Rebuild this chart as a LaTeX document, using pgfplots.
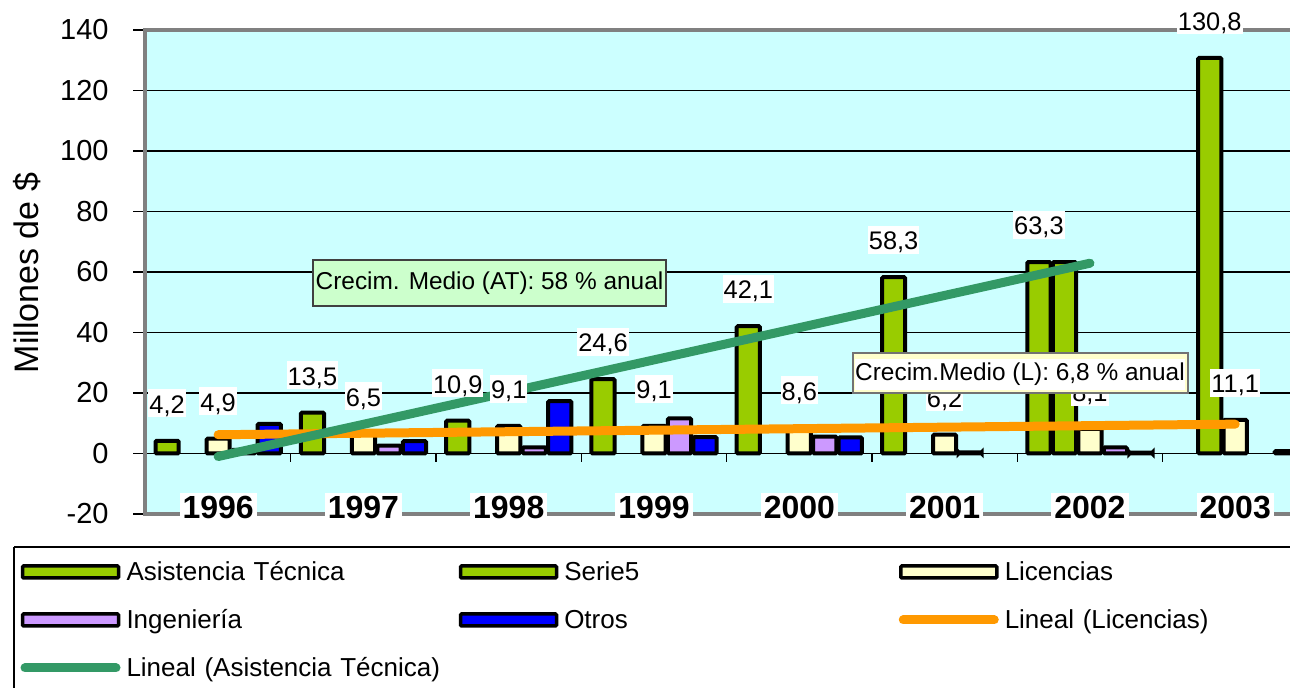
\documentclass[border=0pt]{standalone}
\usepackage{pgfplots}
\pgfplotsset{compat=1.18}
\usepackage{fontspec}
\setmainfont{Liberation Sans}
\definecolor{plotbg}{HTML}{CCFFFF}
\definecolor{atgreen}{HTML}{99CC00}
\definecolor{liccream}{HTML}{FFFFCC}
\definecolor{ingpurple}{HTML}{CC99FF}
\definecolor{otrosblue}{HTML}{0000FF}
\definecolor{trendgreen}{HTML}{339966}
\definecolor{trendorange}{HTML}{FF9900}
\definecolor{boxgreen}{HTML}{CCFFCC}
\definecolor{boxyellow}{HTML}{FFFFCC}
\definecolor{framegray}{HTML}{808080}
\pgfplotsset{
  mybar/.style 2 args={ybar, bar width=11.6pt, bar shift=#2, draw=black, line width=2pt, rounded corners=0.6pt, fill=#1,
    legend image code/.code={\draw[draw=black, line width=1.75pt, fill=#1, rounded corners=0.5pt] (1pt,-3pt) rectangle (49pt,3pt); \path (0pt,-3pt) (44pt,3pt);}},
  mytrend/.style={#1, line width=4.5pt, line cap=round, mark=none,
    legend image code/.code={\draw[#1, line width=4.5pt, line cap=round] (2.25pt,0pt) -- (47.75pt,0pt); \path (0pt,-3pt) (44pt,3pt);}},
  lbl/.style={ybar, bar width=11.6pt, bar shift=0pt, draw=none, fill=none, forget plot,
    nodes near coords={\pgfmathprintnumber[fixed, fixed zerofill, precision=1, use comma, assume math mode=true]{\pgfplotspointmeta}},
    every node near coord/.append style={anchor=south, xshift=#1, yshift=11.5pt, fill=white, text=black, inner xsep=0.5pt, inner ysep=1pt, text height=11pt, text depth=1pt, font=\fontsize{12.7}{14}\selectfont}},
}
\begin{document}
\begin{tikzpicture}
\begin{axis}[
  at={(72.75pt,87pt)}, anchor=south west,
  scale only axis, width=581.2pt, height=242pt,
  xmin=-0.5, xmax=7.5, ymin=-20, ymax=140,
  clip=false,
  axis background/.style={fill=plotbg},
  axis line style={draw=framegray, line width=2pt},
  ytick={-20,0,20,40,60,80,100,120,140},
  ymajorgrids, grid style={black, line width=0.7pt},
  tick align=outside, major tick length=6pt,
  ytick style={black, line width=0.7pt},
  xtick={0,1,2,3,4,5,6,7},
  xticklabels={1996,1997,1998,1999,2000,2001,2002,2003},
  xtick style={draw=none},
  /pgf/number format/assume math mode=true,
  yticklabel style={font=\fontsize{14.5}{17}\selectfont, anchor=east, inner sep=0pt, xshift=-12.25pt},
  xticklabel style={font=\bfseries\fontsize{16}{18}\selectfont, anchor=south, yshift=1pt, fill=white, inner xsep=1.5pt, inner ysep=1.5pt, text height=11.5pt, text depth=1pt},
  ylabel={Millones de \$},
  ylabel style={at={(axis description cs:-0.102,0.498)}, anchor=center, font=\fontsize{17}{19}\selectfont},
  legend columns=3,
  legend cell align=left,
  legend style={at={(axis description cs:-0.1114,-0.09298)}, anchor=north west, draw=none, fill=none, inner sep=0pt, outer sep=0pt, row sep=11pt, font=\fontsize{13}{15}\selectfont, nodes={inner sep=0pt, text width=165pt, text height=11pt, text depth=2pt}, /tikz/every odd column/.append style={column sep=3pt}, /tikz/every even column/.append style={column sep=0pt}},
]
\addplot[mybar={atgreen}{-25.5pt}] coordinates {(0,4.2) (1,13.5) (2,10.9) (3,24.6) (4,42.1) (5,58.3) (6,63.3)};
\addlegendentry{Asistencia Técnica}
\addplot[mybar={atgreen}{-12.75pt}] coordinates {(6,63.3) (7,130.8)};
\addlegendentry{Serie5}
\addplot[mybar={liccream}{0pt}] coordinates {(0,4.9) (1,6.5) (2,9.1) (3,9.1) (4,8.6) (5,6.2) (6,8.1) (7,11.1)};
\addlegendentry{Licencias}
\addplot[mybar={ingpurple}{12.75pt}] coordinates {(0,1.2) (1,2.6) (2,2.0) (3,11.6) (4,5.6) (5,0.4) (6,2.0)};
\addlegendentry{Ingeniería}
\addplot[mybar={otrosblue}{25.5pt}] coordinates {(0,9.8) (1,4.1) (2,17.3) (3,5.4) (4,5.3) (6,0.3) (7,0.8)};
\addlegendentry{Otros}
\addplot[mytrend=trendorange] coordinates {(0,6.2) (7,9.7)};
\addlegendentry{Lineal (Licencias)}
\addplot[mytrend=trendgreen] coordinates {(0,-1.0) (6,62.9)};
\addlegendentry{Lineal (Asistencia Técnica)}
\addplot[lbl=-25.5pt] coordinates {(0,4.2) (1,13.5) (2,10.9) (3,24.6) (4,42.1) (5,58.3) (6,63.3)};
\addplot[lbl=-12.75pt] coordinates {(7,130.8)};
\addplot[lbl=0pt] coordinates {(0,4.9) (1,6.5) (2,9.1) (3,9.1) (4,8.6) (5,6.2) (6,8.1) (7,11.1)};
\pgfplotsinvokeforeach{0.5,1.5,2.5,3.5,4.5,5.5,6.5}{\draw[black, line width=0.7pt] (axis cs:#1,0) -- ++(0pt,-4.5pt);}
\end{axis}
\draw[black, line width=0.75pt] (7pt,70.5pt) -- (700pt,70.5pt);
\draw[black, line width=0.75pt] (7pt,70.5pt) -- (7pt,-20pt);
\node[fill=boxgreen, draw=black!75, line width=0.6pt, minimum width=176.5pt, minimum height=23pt, inner sep=0pt, font=\fontsize{12.2}{14}\selectfont] at (244.75pt,202.5pt) {Crecim. Medio (AT): 58 \% anual};
\node[fill=boxyellow, draw=black!55, line width=0.6pt, minimum width=167.5pt, minimum height=20pt, inner sep=0pt] at (510.25pt,157.5pt) {};
\node[fill=white, minimum width=163pt, minimum height=15.5pt, inner sep=0pt, font=\fontsize{12.2}{14}\selectfont] at (510pt,156.75pt) {Crecim.Medio (L): 6,8 \% anual};
\pgfresetboundingbox
\path (0pt,0pt) rectangle (645pt,344pt);
\end{tikzpicture}
\end{document}
